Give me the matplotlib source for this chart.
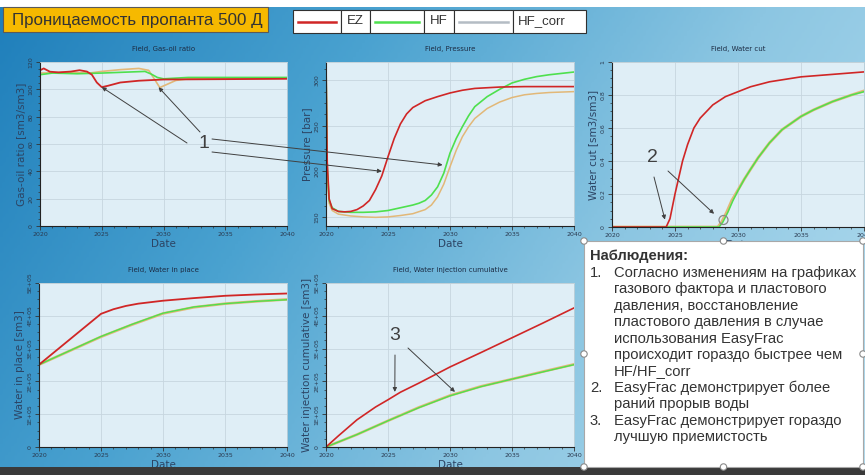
import numpy as np
import matplotlib
matplotlib.use('Agg')
import matplotlib.pyplot as plt
from matplotlib.patches import Rectangle, Circle
from matplotlib.lines import Line2D
from matplotlib.text import Annotation
from matplotlib.ticker import MultipleLocator, AutoMinorLocator, FuncFormatter
from matplotlib.colors import LinearSegmentedColormap

# ---------------- data ----------------
series_names = ["EZ", "HF", "HF_corr"]
slide_title = "Проницаемость пропанта 500 Д"
x_ticks = [2020, 2025, 2030, 2035, 2040]

# Gas-oil ratio [sm3/sm3]
gor_ez_t = [2020, 2020.3, 2020.8, 2021.5, 2022.5, 2023.2, 2023.8, 2024.2, 2024.6, 2025.0, 2025.5, 2026.5, 2028, 2030, 2040]
gor_ez_v = [113.9, 115.3, 112.9, 112.4, 113.0, 114.0, 113.0, 110.7, 105.0, 101.6, 102.6, 105.0, 106.3, 107.2, 107.7]
gor_hf_t = [2020, 2021, 2023, 2025, 2027, 2028.5, 2029, 2029.5, 2030, 2032, 2040]
gor_hf_v = [110.7, 111.9, 111.4, 111.9, 112.6, 113.1, 111.2, 108.7, 107.7, 108.7, 108.7]
gor_hc_t = [2020, 2022, 2024, 2025, 2026.5, 2028, 2028.8, 2029.3, 2029.7, 2030.2, 2031, 2032, 2040]
gor_hc_v = [111.9, 112.4, 111.9, 113.1, 114.4, 115.3, 113.9, 107.0, 101.3, 103.3, 106.5, 107.7, 108.2]

# Pressure [bar]
pr_ez_t = [2020, 2020.1, 2020.25, 2020.5, 2021, 2021.5, 2022, 2022.5, 2023, 2023.5, 2024, 2024.5, 2025, 2025.5,
           2026, 2026.5, 2027, 2028, 2029, 2030, 2031, 2032, 2034, 2036, 2040]
pr_ez_v = [320, 210, 170, 159, 156, 155.5, 156, 158, 162, 168, 180, 195, 216, 236,
           252, 263, 270, 277.5, 282, 286, 289, 291, 292.5, 293, 293]
pr_hf_t = [2020, 2020.1, 2020.25, 2020.5, 2021, 2022, 2023, 2024, 2025, 2026, 2027, 2027.5, 2028, 2028.5, 2029,
           2029.5, 2030, 2030.5, 2031, 2031.5, 2032, 2033, 2034, 2035, 2036, 2037, 2038, 2040]
pr_hf_v = [320, 205, 168, 160, 156, 155, 155, 155.5, 157, 160, 163, 165, 168, 174, 183,
           198, 220, 236, 249, 261, 271, 282, 290, 297, 301, 304, 306, 309]
pr_hc_t = [2020, 2020.1, 2020.25, 2020.5, 2021, 2022, 2023, 2024, 2025, 2026, 2027, 2028, 2028.5, 2029,
           2029.5, 2030, 2030.5, 2031, 2031.5, 2032, 2033, 2034, 2035, 2036, 2037, 2038, 2040]
pr_hc_v = [320, 200, 165, 157, 153, 151, 150, 149.5, 150, 151.5, 153.5, 158, 163, 172,
           186, 205, 223, 238, 249, 258, 269, 276, 281, 284, 285.5, 286.5, 287.5]

# Water cut [sm3/sm3]
wc_ez_t = [2020, 2024.3, 2024.6, 2025, 2025.3, 2025.6, 2026, 2026.5, 2027, 2028, 2029, 2030, 2031, 2032.5, 2035, 2037.5, 2040]
wc_ez_v = [0, 0, 0.05, 0.2, 0.3, 0.4, 0.5, 0.6, 0.66, 0.74, 0.79, 0.82, 0.85, 0.88, 0.91, 0.925, 0.94]
wc_hf_t = [2020, 2028.5, 2028.8, 2029.2, 2029.6, 2030, 2030.5, 2031, 2031.6, 2032.5, 2033.5, 2035, 2036, 2037.5, 2039, 2040]
wc_hf_v = [0, 0, 0.03, 0.09, 0.16, 0.22, 0.29, 0.35, 0.42, 0.51, 0.59, 0.67, 0.71, 0.76, 0.80, 0.82]
wc_hc_t = [2020, 2028.4, 2028.7, 2029.1, 2029.5, 2030, 2030.5, 2031, 2031.6, 2032.5, 2033.5, 2035, 2036, 2037.5, 2039, 2040]
wc_hc_v = [0, 0, 0.03, 0.09, 0.16, 0.225, 0.29, 0.35, 0.42, 0.51, 0.59, 0.67, 0.71, 0.76, 0.80, 0.825]

# Water in place [sm3]
wip_ez_t = [2020, 2025, 2026, 2027, 2028, 2030, 2032.5, 2035, 2037.5, 2040]
wip_ez_v = [2.51e5, 4.06e5, 4.20e5, 4.30e5, 4.37e5, 4.46e5, 4.54e5, 4.61e5, 4.65e5, 4.68e5]
wip_hf_t = [2020, 2025, 2027.5, 2030, 2032.5, 2035, 2037.5, 2040]
wip_hf_v = [2.51e5, 3.37e5, 3.74e5, 4.08e5, 4.27e5, 4.37e5, 4.44e5, 4.49e5]
wip_hc_v = [2.51e5, 3.36e5, 3.73e5, 4.07e5, 4.26e5, 4.37e5, 4.44e5, 4.50e5]

# Water injection cumulative [sm3]
wic_ez_t = [2020, 2021, 2022.5, 2024, 2025, 2026, 2027.5, 2030, 2032.5, 2035, 2037.5, 2040]
wic_ez_v = [0, 0.34e5, 0.83e5, 1.22e5, 1.44e5, 1.67e5, 1.95e5, 2.44e5, 2.88e5, 3.33e5, 3.78e5, 4.24e5]
wic_hf_t = [2020, 2022.5, 2025, 2027.5, 2030, 2032.5, 2035, 2037.5, 2040]
wic_hf_v = [0, 0.38e5, 0.80e5, 1.20e5, 1.56e5, 1.84e5, 2.07e5, 2.29e5, 2.51e5]
wic_hc_v = [0, 0.38e5, 0.80e5, 1.21e5, 1.57e5, 1.85e5, 2.07e5, 2.30e5, 2.52e5]

notes_header = "Наблюдения:"
notes_lines = [
    ("1.", "Согласно изменениям на графиках"),
    ("", "газового фактора и пластового"),
    ("", "давления, восстановление"),
    ("", "пластового давления в случае"),
    ("", "использования EasyFrac"),
    ("", "происходит гораздо быстрее чем"),
    ("", "HF/HF_corr"),
    ("2.", "EasyFrac демонстрирует более"),
    ("", "раний прорыв воды"),
    ("3.", "EasyFrac демонстрирует гораздо"),
    ("", "лучшую приемистость"),
]

# ---------------- style ----------------
C_EZ = '#d02626'
C_HF = '#4ee04e'
C_HC = '#e2b878'
C_HC_LEG = '#b4bcc4'
AX_FACE = '#dfeef6'
TXT_AX = '#2c4464'
SLIDE_FONT = ['Liberation Sans', 'DejaVu Sans']

W, H = 865, 475
fig = plt.figure(figsize=(W / 100, H / 100), dpi=100)
fig.patch.set_facecolor('white')


def rect(x0, y0, x1, y1):
    return [x0 / W, 1 - y1 / H, (x1 - x0) / W, (y1 - y0) / H]


def fp(x, y):
    return (x, H - y)


# background gradient
bg = fig.add_axes(rect(0, 7, W, 467), zorder=-5)
gx = np.linspace(0, 1, 300)
gy = np.linspace(0, 1, 160)
GX, GY = np.meshgrid(gx, gy)
grad = np.clip(0.75 * GX + 0.25 * GY, 0, 1)
cmap = LinearSegmentedColormap.from_list('bgc', ['#1f7fbb', '#4aa2d0', '#8cc6e2', '#b2dcef'])
bg.imshow(grad, cmap=cmap, aspect='auto', extent=[0, 1, 0, 1], origin='upper')
bg.set_axis_off()
fig.patches.append(Rectangle((0, 0), 1, 8 / H, transform=fig.transFigure, facecolor='#3a3a3a',
                             edgecolor='none', zorder=0))


def style_axes(ax, title, ylabel, ylim, ymajor, yfmt=None):
    ax.set_facecolor(AX_FACE)
    ax.set_xlim(2020, 2040)
    ax.set_ylim(*ylim)
    ax.xaxis.set_major_locator(MultipleLocator(5))
    ax.xaxis.set_minor_locator(MultipleLocator(1))
    ax.yaxis.set_major_locator(MultipleLocator(ymajor))
    ax.yaxis.set_minor_locator(AutoMinorLocator(4))
    if yfmt is not None:
        ax.yaxis.set_major_formatter(FuncFormatter(yfmt))
    ax.grid(True, which='major', color='#c6d6df', lw=0.6)
    ax.tick_params(which='major', length=3, width=0.6, labelsize=4.5, colors='#333333',
                   labelcolor='#2a3a50', pad=1.5)
    ax.tick_params(which='minor', length=1.6, width=0.5, colors='#333333')
    for lab in ax.get_yticklabels():
        lab.set_rotation(90)
        lab.set_va('center')
    for s in ['left', 'bottom']:
        ax.spines[s].set_color('#222222')
        ax.spines[s].set_linewidth(0.8)
    for s in ['top', 'right']:
        ax.spines[s].set_color('#c0d0d8')
        ax.spines[s].set_linewidth(0.6)
    ax.set_title(title, fontsize=5, color='#1c2c44', pad=8)
    ax.set_ylabel(ylabel, fontsize=7.5, color=TXT_AX, labelpad=2)
    ax.set_xlabel('Date', fontsize=7.5, color=TXT_AX, labelpad=1)
    ax.set_xticks(x_ticks)


def sci(v, pos):
    if v == 0:
        return '0'
    return '%dE+05' % round(v / 1e5)


ax1 = fig.add_axes(rect(40, 62, 287, 226))
ax2 = fig.add_axes(rect(326, 62, 574, 226))
ax3 = fig.add_axes(rect(612, 62, 864, 227))
ax4 = fig.add_axes(rect(39, 283, 287, 447))
ax5 = fig.add_axes(rect(326, 283, 574, 447))

ax1.plot(gor_hc_t, gor_hc_v, color=C_HC, lw=1.2)
ax1.plot(gor_hf_t, gor_hf_v, color=C_HF, lw=1.2)
ax1.plot(gor_ez_t, gor_ez_v, color=C_EZ, lw=1.3)
style_axes(ax1, 'Field, Gas-oil ratio', 'Gas-oil ratio [sm3/sm3]', (0, 120), 20)

ax2.plot(pr_hc_t, pr_hc_v, color=C_HC, lw=1.1)
ax2.plot(pr_hf_t, pr_hf_v, color=C_HF, lw=1.2)
ax2.plot(pr_ez_t, pr_ez_v, color=C_EZ, lw=1.2)
style_axes(ax2, 'Field, Pressure', 'Pressure [bar]', (140, 320), 50)

ax3.plot(wc_hc_t, wc_hc_v, color=C_HC, lw=2.0)
ax3.plot(wc_hf_t, wc_hf_v, color=C_HF, lw=1.1)
ax3.plot(wc_ez_t, wc_ez_v, color=C_EZ, lw=1.2)
style_axes(ax3, 'Field, Water cut', 'Water cut [sm3/sm3]', (0, 1), 0.2,
           lambda v, p: '0' if v == 0 else ('1' if abs(v - 1) < 1e-9 else '%.1f' % v))

ax4.plot(wip_hf_t, wip_hc_v, color=C_HC, lw=1.9)
ax4.plot(wip_hf_t, wip_hf_v, color=C_HF, lw=1.0)
ax4.plot(wip_ez_t, wip_ez_v, color=C_EZ, lw=1.3)
style_axes(ax4, 'Field, Water in place', 'Water in place [sm3]', (0, 5e5), 1e5, sci)

ax5.plot(wic_hf_t, wic_hc_v, color=C_HC, lw=1.9)
ax5.plot(wic_hf_t, wic_hf_v, color=C_HF, lw=1.0)
ax5.plot(wic_ez_t, wic_ez_v, color=C_EZ, lw=1.2)
style_axes(ax5, 'Field, Water injection cumulative', 'Water injection cumulative [sm3]', (0, 5e5), 1e5, sci)

# ---------------- slide title ----------------
fig.patches.append(Rectangle(fp(3, 32), 265, 25, transform=None, facecolor='#f6b900',
                             edgecolor='#5a5a5a', lw=0.8, zorder=2))
fig.text(12 / W, 1 - 20 / H, slide_title, fontsize=12.2, color='#333333', va='center', ha='left',
         family=SLIDE_FONT, zorder=3)

# ---------------- legend ----------------
leg_cells = [(293, 341), (341, 370), (370, 424), (424, 454), (454, 513), (513, 586)]
for (a, b) in leg_cells:
    fig.patches.append(Rectangle(fp(a, 33), b - a, 23, transform=None, facecolor='white',
                                 edgecolor='#303030', lw=0.8, zorder=2))
leg_colors = [C_EZ, C_HF, C_HC_LEG]
for i, name in enumerate(series_names):
    a, b = leg_cells[2 * i]
    fig.add_artist(Line2D([a + 5, b - 5], [H - 21.5, H - 21.5], transform=None,
                          color=leg_colors[i], lw=1.8, zorder=3))
    ta, tb = leg_cells[2 * i + 1]
    if name == 'HF_corr':
        fig.text((ta + 5) / W, 1 - 21.5 / H, name, fontsize=9.5, color='#333333', ha='left', va='center',
                 family=SLIDE_FONT, zorder=3)
    else:
        fig.text((ta + tb) / 2 / W, 1 - 21.5 / H, name, fontsize=9.5, color='#333333', ha='center',
                 va='center', family=SLIDE_FONT, zorder=3)

# ---------------- notes box ----------------
bx0, by0, bx1, by1 = 584, 241, 863, 467
fig.patches.append(Rectangle(fp(bx0, by1), bx1 - bx0, by1 - by0, transform=None, facecolor='white',
                             edgecolor='#a8a8a8', lw=0.8, zorder=2))
for hx in (bx0, (bx0 + bx1) / 2, bx1):
    for hy in (by0, (by0 + by1) / 2, by1):
        if hx == (bx0 + bx1) / 2 and hy == (by0 + by1) / 2:
            continue
        fig.patches.append(Circle(fp(hx, hy), 3.2, transform=None, facecolor='white',
                                  edgecolor='#8a8a8a', lw=0.8, zorder=4))
fig.patches.append(Circle(fp((bx0 + bx1) / 2, 220), 4.5, transform=None, facecolor='none',
                          edgecolor='#8a8a8a', lw=0.9, zorder=4))

fig.text(590 / W, 1 - 256 / H, notes_header, fontsize=10.6, fontweight='bold', color='#333333',
         va='center', ha='left', family=SLIDE_FONT, zorder=5)
for i, (num, line) in enumerate(notes_lines):
    yy = 273 + i * 16.4
    if num:
        fig.text(590 / W, 1 - yy / H, num, fontsize=10.6, color='#333333', va='center', ha='left',
                 family=SLIDE_FONT, zorder=5)
    fig.text(614 / W, 1 - yy / H, line, fontsize=10.6, color='#333333', va='center', ha='left',
             family=SLIDE_FONT, zorder=5)

# ---------------- annotations ----------------
AC = '#404040'


def arrow(ax, xy, start):
    ann = Annotation('', xy=xy, xycoords=ax.transData, xytext=fp(*start), textcoords='figure pixels',
                     arrowprops=dict(arrowstyle='-|>', color=AC, lw=0.7, mutation_scale=6,
                                     shrinkA=0, shrinkB=0), annotation_clip=False)
    ann.set_zorder(6)
    fig.add_artist(ann)


fig.text(204 / W, 1 - 143 / H, '1', fontsize=14, color='#404040', ha='center', va='center',
         family=SLIDE_FONT, zorder=6)
arrow(ax1, (2025.0, 101.6), (187, 143))
arrow(ax1, (2029.6, 101.5), (200, 132))
arrow(ax2, (2029.4, 207), (212, 139))
arrow(ax2, (2024.5, 200), (212, 152))

fig.text(652 / W, 1 - 157 / H, '2', fontsize=14, color='#404040', ha='center', va='center',
         family=SLIDE_FONT, zorder=6)
arrow(ax3, (2024.2, 0.045), (654, 177))
arrow(ax3, (2028.1, 0.08), (668, 171))

fig.text(395 / W, 1 - 335 / H, '3', fontsize=14, color='#404040', ha='center', va='center',
         family=SLIDE_FONT, zorder=6)
arrow(ax5, (2025.55, 1.68e5), (395, 355))
arrow(ax5, (2030.4, 1.68e5), (408, 348))

fig.savefig('out.png', dpi=100)
